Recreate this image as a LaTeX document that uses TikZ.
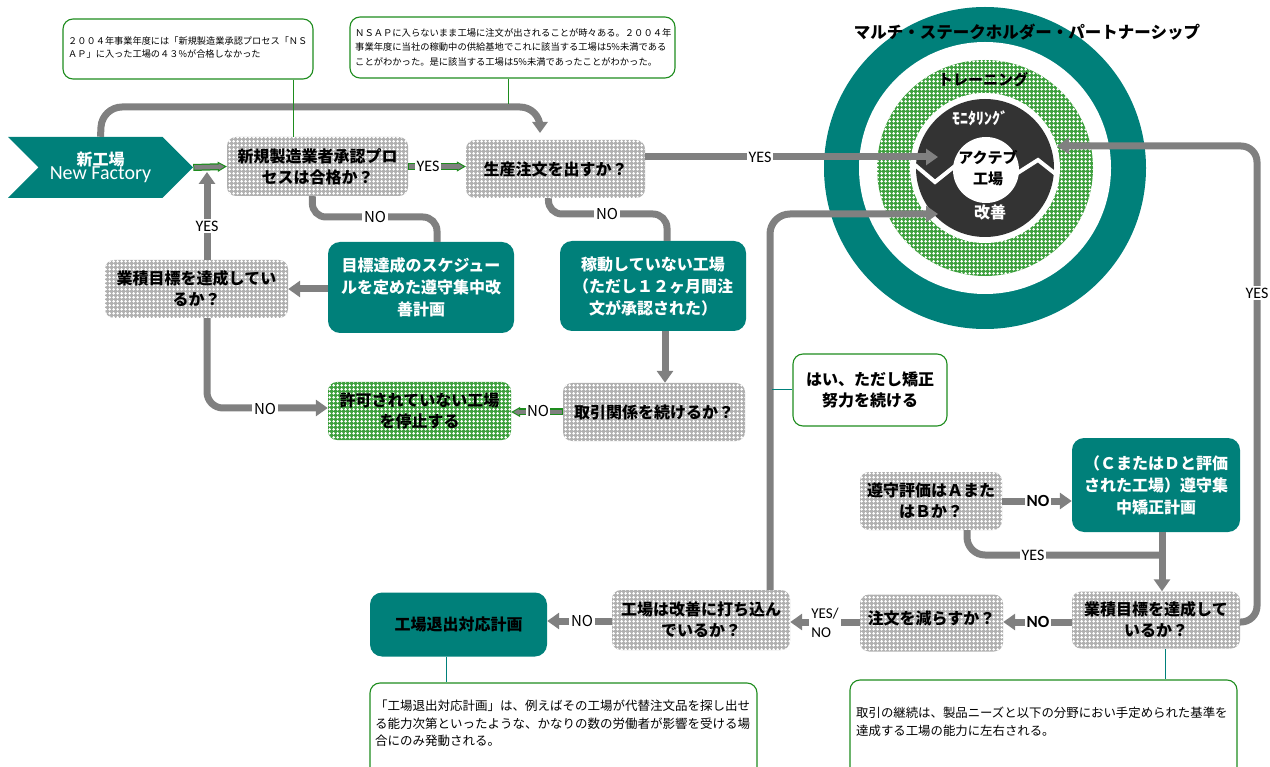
\documentclass[tikz,border=0pt]{standalone}
\usepackage{fontspec}
\setmainfont{Noto Sans CJK JP}
\newfontfamily\lat{Carlito}
\usetikzlibrary{arrows.meta,shapes.symbols,patterns.meta,calc}
\definecolor{teal1}{RGB}{0,128,122}
\definecolor{gline}{RGB}{128,128,128}
\definecolor{ngreen}{RGB}{30,140,30}
\definecolor{hatchgreen}{RGB}{62,160,62}
\definecolor{darkc}{RGB}{51,51,51}
\tikzdeclarepattern{
  name=wmesh,
  type=uncolored,
  bottom left={(0pt,0pt)},
  top right={(4pt,4pt)},
  tile size={(4pt,4pt)},
  code={
    \pgfpathrectangle{\pgfpoint{0.5pt}{1.25pt}}{\pgfpoint{3pt}{1.5pt}}
    \pgfpathrectangle{\pgfpoint{1.25pt}{0.5pt}}{\pgfpoint{1.5pt}{3pt}}
    \pgfusepath{fill}
  }
}
\begin{document}
\begin{tikzpicture}[x=1pt,y=-1pt,
  bigtxt/.style={font=\fontsize{16}{21}\selectfont\bfseries},
  qbox/.style={rounded corners=9pt, preaction={fill=gray!62}, pattern=wmesh, pattern color=white, align=center, bigtxt, inner sep=0pt},
  gbox/.style={rounded corners=9pt, preaction={fill=hatchgreen}, pattern=wmesh, pattern color=white, align=center, bigtxt, inner sep=0pt},
  tbox/.style={rounded corners=12pt, fill=teal1, align=center, text=white, font=\fontsize{16}{22}\selectfont\bfseries, inner sep=0pt},
  note/.style={draw=ngreen, line width=1.1pt, rounded corners=10pt, fill=white, inner sep=0pt},
  ntext/.style={align=left, inner sep=0pt, anchor=north west},
  conn/.style={draw=gline, line width=7pt, rounded corners=16pt},
  arr/.style={conn, -{Triangle[length=12pt,width=16pt]}},
  smarr/.style={draw=ngreen, line width=7pt, -{Triangle[length=9pt,width=10pt,line width=1pt,fill=gline]},
     postaction={draw=gline, line width=4.5pt, arrows=-, shorten >=8pt, shorten <=1pt}},
  nline/.style={draw=ngreen, line width=1pt},
  tline/.style={draw=teal1, line width=1pt},
  lab/.style={fill=white, inner sep=2pt, font=\lat\fontsize{16}{17}\selectfont},
  labb/.style={fill=white, inner sep=2pt, font=\lat\fontsize{17}{17}\selectfont\bfseries},
  laba/.style={fill=white, inner sep=2pt, font=\fontsize{15}{16}\selectfont},
]
\useasboundingbox (0,0) rectangle (1270,767);
\clip (0,0) rectangle (1270,767);

% ---------------- partnership circle
\coordinate (pc) at (985,168);
\fill[teal1] (pc) circle[radius=161];
\fill[white] (pc) circle[radius=126];
\path[preaction={fill=hatchgreen}, pattern=wmesh, pattern color=white] (pc) circle[radius=108];
\fill[white] (pc) circle[radius=75];
\fill[darkc] (pc) circle[radius=69];
\fill[white] (986,170) circle[radius=33];
\draw[white, line width=4pt, line join=miter] (915,165) -- (935,182) -- (955,166);
\draw[white, line width=4pt, line join=miter] (1016,174) -- (1038,160) -- (1057,175);
\node[font=\fontsize{16.5}{17}\selectfont\bfseries] (ttl) at (1027,32) {マルチ・ステークホルダー・パートナーシップ};
\node[font=\fontsize{15}{16}\selectfont\bfseries] (trn) at (983,80) {トレーニング};
\node[font=\fontsize{16}{16}\selectfont\bfseries, text=white] (mon) at (980,118) {ﾓﾆﾀﾘﾝｸﾞ};
\node[font=\fontsize{15}{21}\selectfont\bfseries, align=center] (act) at (988,168) {アクテブ\\工場};
\node[font=\fontsize{16}{16}\selectfont\bfseries, text=white] (kai) at (990,212) {改善};
\coordinate (inA) at (938,157);
\coordinate (inB) at (938,214);
\coordinate (inC) at (1057,146);

% ---------------- notes (top)
\node[note, minimum width=250pt, minimum height=60pt] (n1) at (188,49) {};
\node[ntext, font=\fontsize{9.2}{12.3}\selectfont] (n1t) at (68,37) {２００４年事業年度には「新規製造業承認プロセス「ＮＳ\\ＡＰ」に入った工場の４３\%が合格しなかった};
\node[note, minimum width=325pt, minimum height=61pt] (n2) at (512.5,47.5) {};
\node[ntext, font=\fontsize{9.3}{14.5}\selectfont] (n2t) at (355,28) {ＮＳＡＰに入らないまま工場に注文が出されることが時々ある。２００４年\\事業年度に当社の稼動中の供給基地でこれに該当する工場は5\%未満である\\ことがわかった。是に該当する工場は5\%未満であったことがわかった。};

% ---------------- flow nodes
\node[shape=signal, signal to=east, signal from=west, minimum width=185pt, minimum height=61pt, fill=teal1, inner sep=0pt, text=white, align=center] (nf) at (100.5,167.5)
  {{\fontsize{16}{20}\selectfont\bfseries 新工場}\\[-1pt]{\lat\fontsize{20}{20}\selectfont New Factory}};
\node[qbox, minimum width=181pt, minimum height=59pt] (A) at (317.5,166.5) {新規製造業者承認プロ\\セスは合格か？};
\node[qbox, minimum width=179pt, minimum height=58pt] (B) at (555.5,169) {生産注文を出すか？};
\node[tbox, minimum width=186pt, minimum height=91pt] (C1) at (421,287.5) {目標達成のスケジュー\\ルを定めた遵守集中改\\善計画};
\node[tbox, minimum width=186pt, minimum height=90pt] (C2) at (653,286) {稼動していない工場\\（ただし１２ヶ月間注\\文が承認された）};
\node[qbox, minimum width=183pt, minimum height=58pt] (D) at (196.5,289) {業積目標を達成してい\\るか？};
\node[gbox, minimum width=183pt, minimum height=58pt] (E) at (419.5,411) {許可されていない工場\\を停止する};
\node[qbox, minimum width=182pt, minimum height=58pt] (F) at (654,412) {取引関係を続けるか？};
\node[note, minimum width=154pt, minimum height=72pt, align=center, bigtxt] (yn) at (870,390) {はい、ただし矯正\\努力を続ける};
\node[qbox, minimum width=142pt, minimum height=58pt] (G) at (931,501) {遵守評価はＡまた\\はＢか？};
\node[tbox, minimum width=168pt, minimum height=94pt] (H) at (1156,485) {（ＣまたはＤと評価\\された工場）遵守集\\中矯正計画};
\node[qbox, minimum width=168pt, minimum height=57pt] (I) at (1156,620) {業積目標を達成して\\いるか？};
\node[qbox, minimum width=143pt, minimum height=57pt] (J) at (931.5,623) {\raisebox{10pt}{注文を減らすか？}};
\node[qbox, minimum width=178pt, minimum height=60pt] (K) at (701,620) {工場は改善に打ち込ん\\でいるか？};
\node[tbox, text=black, minimum width=177pt, minimum height=64pt] (L) at (458.5,624.5) {工場退出対応計画};

% ---------------- notes (bottom)
\node[note, minimum width=387pt, minimum height=120pt] (nbl) at (563.5,743) {};
\node[ntext, font=\fontsize{12.5}{17.5}\selectfont] (nblt) at (375,700) {「工場退出対応計画」は、例えばその工場が代替注文品を探し出せ\\る能力次第といったような、かなりの数の労働者が影響を受ける場\\合にのみ発動される。};
\node[note, minimum width=387pt, minimum height=120pt] (nbr) at (1043.5,740) {};
\node[ntext, font=\fontsize{12.4}{17.5}\selectfont] (nbrt) at (856,707) {取引の継続は、製品ニーズと以下の分野におい手定められた基準を\\達成する工場の能力に左右される。};

% ---------------- connectors
\draw[conn, rounded corners=20pt, -{Triangle[length=11pt,width=15pt]}] (nf.north) -- (102,107) -- (540,107) -- (540,133);
\draw[nline] (n1.south -| 293,0) -- (A.north -| 293,0);
\draw[nline] (n2.south -| 508,0) -- (508,104);
\draw[smarr] (nf.east) -- (A.west);
\draw[smarr] (A.east) -- (A.east -| B.west);
\draw[smarr] (F.west) -- (F.west -| E.east);
\draw[arr] ($(B.east)+(0,-12)$) -- (inA);
\draw[conn, rounded corners=14pt] ($(A.south)+(-5,0)$) -- (312,217) -- (437,217) -- (C1.north -| 437,0);
\draw[conn, rounded corners=14pt] ($(B.south)+(-7,0)$) -- (548,214) -- (667,214) -- (C2.north -| 667,0);
\draw[arr] (C1.west |- D.east) -- (D.east);
\draw[arr] (D.north -| 207,0) -- (207,172);
\draw[arr] (D.south -| 207,0) -- (207,408) -- (E.west |- 0,408);
\draw[arr] (C2.south -| 665,0) -- (F.north -| 665,0);
\draw[arr] (G.east) -- (G.east -| H.west);
\draw[conn, rounded corners=18pt] (G.south -| 967,0) -- (967,555) -- (1162,555);
\draw[arr] (H.south -| 1162,0) -- (I.north -| 1162,0);
\draw[arr] (I.west |- 0,622) -- (J.east |- 0,622);
\draw[arr] (J.west |- 0,622) -- (K.east |- 0,622);
\draw[arr] (K.west |- 0,621) -- (L.east |- 0,621);
\draw[arr, rounded corners=20pt] (K.north -| 770,0) -- (770,214) -- (inB);
\draw[arr, rounded corners=16pt] (I.east |- 0,622) -- (1257,622) -- (1257,146) -- (inC);
\draw[tline] (yn.west) -- ($(yn.west)+(-20,0)$);
\draw[tline] (L.south -| 446,0) -- (nbl.north -| 446,0);
\draw[tline] (I.south -| 1165,0) -- (nbr.north -| 1165,0);

% ---------------- labels
\node[lab] (lyes1) at (428,166) {YES};
\node[lab] (lyes2) at (760,157) {YES};
\node[laba] (lno1) at (375,217) {NO};
\node[laba] (lno2) at (607,214) {NO};
\node[lab] (lyes3) at (207,226) {YES};
\node[laba] (lno3) at (265,409) {NO};
\node[laba, inner sep=1pt] (lno4) at (538,411) {NO};
\node[lab] (lyes4) at (1257,293) {YES};
\node[labb] (lno5) at (1038,501) {NO};
\node[lab] (lyes5) at (1033,555) {YES};
\node[labb] (lno6) at (1038,622) {NO};
\node[lab, align=left, font=\lat\fontsize{15}{19}\selectfont] (lyn) at (825,623) {YES/\\NO};
\node[laba] (lno7) at (582,621) {NO};
\end{tikzpicture}
\end{document}
